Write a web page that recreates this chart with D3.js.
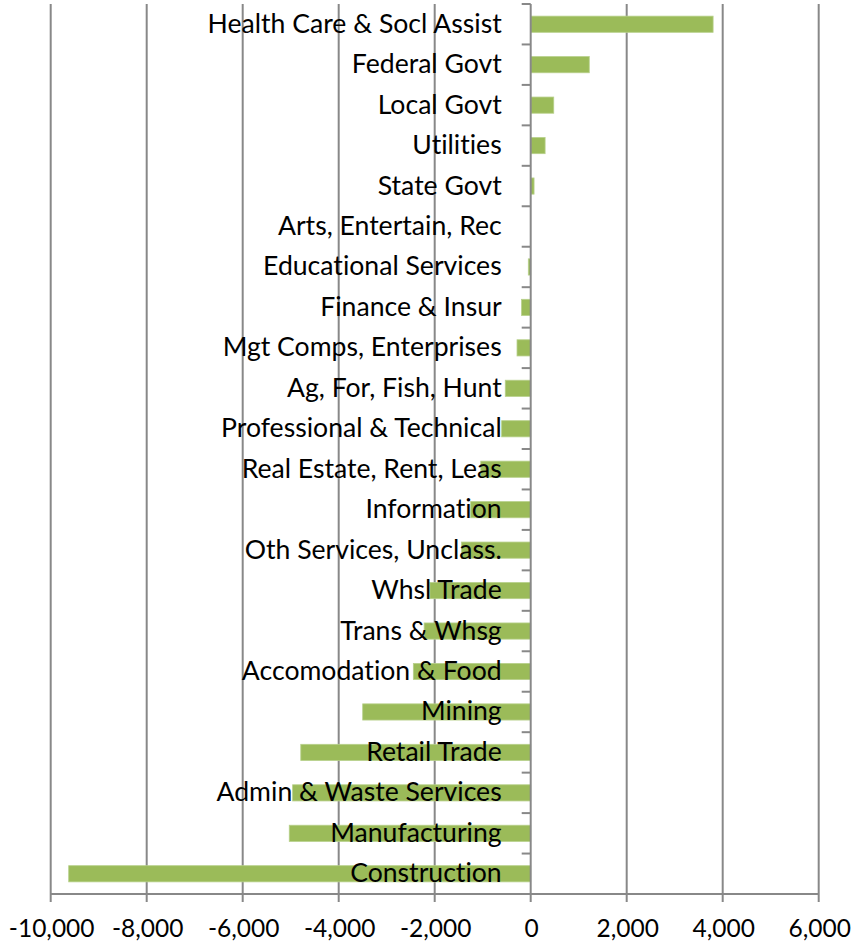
<!DOCTYPE html>
<html>
<head>
<meta charset="utf-8">
<script src="https://cdn.jsdelivr.net/npm/d3@7"></script>
<style>
  body { margin: 0; background: #fff; }
  .grid-line, .axis-line, .tick-mark { stroke: #888; stroke-width: 2; }
  text { font-variant-ligatures: none; font-feature-settings: "liga" 0, "clig" 0; }
  .cat-label { font-family: Lato, "Noto Sans", sans-serif; font-size: 26.6px; fill: #000; }
  .num-label { font-family: Lato, "Noto Sans", sans-serif; font-size: 24.5px; fill: #000; }
</style>
</head>
<body>
<div class="app"></div>
<script>
'use strict'

// categories, top to bottom
var categories = [
  "Health Care & Socl Assist",
  "Federal Govt",
  "Local Govt",
  "Utilities",
  "State Govt",
  "Arts, Entertain, Rec",
  "Educational Services",
  "Finance & Insur",
  "Mgt Comps, Enterprises",
  "Ag, For, Fish, Hunt",
  "Professional & Technical",
  "Real Estate, Rent, Leas",
  "Information",
  "Oth Services, Unclass.",
  "Whsl Trade",
  "Trans & Whsg",
  "Accomodation & Food",
  "Mining",
  "Retail Trade",
  "Admin & Waste Services",
  "Manufacturing",
  "Construction"
];

// change in jobs
var values = [
  3800, 1220, 480, 300, 70, 0, -50, -190, -285, -530, -605,
  -1040, -1250, -1440, -2100, -2220, -2445, -3500, -4790, -4960,
  -5030, -9625
];

var xTicks = [-10000, -8000, -6000, -4000, -2000, 0, 2000, 4000, 6000];

var data = categories.map(function(c, i) {
  return {name: c, value: values[i]};
});

var W = 852, H = 944;
var plotLeft = 50.7, plotRight = 818.7, plotTop = 4, plotBottom = 894;

// scales
var x = d3.scaleLinear().domain([-10000, 6000]).range([plotLeft, plotRight]);
var y = d3.scaleBand().domain(categories).range([plotTop, plotBottom])
          .paddingInner(0.6).paddingOuter(0.3);
var step = y.step();

// plain hyphen for negatives, like the original
var fmt = d3.formatLocale({decimal: ".", thousands: ",", grouping: [3], currency: ["", ""], minus: "-"}).format(",");

var svg = d3.select(".app").append("svg")
            .attr("width", W)
            .attr("height", H);

// vertical grid lines
svg.append("g").selectAll("line")
   .data(xTicks.filter(function(t) { return t !== 0; }))
   .enter().append("line")
   .attr("class", "grid-line")
   .attr("x1", function(d) { return x(d); })
   .attr("x2", function(d) { return x(d); })
   .attr("y1", plotTop)
   .attr("y2", plotBottom + 8);

// bottom axis line
svg.append("line")
   .attr("class", "axis-line")
   .attr("x1", plotLeft).attr("x2", plotRight)
   .attr("y1", plotBottom).attr("y2", plotBottom);

// bars
svg.append("g").selectAll("rect")
   .data(data)
   .enter().append("rect")
   .attr("x", function(d) { return x(Math.min(0, d.value)); })
   .attr("y", function(d) { return y(d.name); })
   .attr("width", function(d) { return Math.abs(x(d.value) - x(0)); })
   .attr("height", y.bandwidth())
   .attr("fill", "#9BBB59")
   .attr("stroke", "#B7D08A")
   .attr("stroke-width", 0.8);

// zero axis with category ticks
svg.append("line")
   .attr("class", "axis-line")
   .attr("x1", x(0)).attr("x2", x(0))
   .attr("y1", plotTop).attr("y2", plotBottom + 8);

var bounds = d3.range(categories.length + 1).map(function(i) { return plotTop + i * step; });
svg.append("g").selectAll("line")
   .data(bounds)
   .enter().append("line")
   .attr("class", "tick-mark")
   .attr("x1", x(0) - 9).attr("x2", x(0))
   .attr("y1", function(d) { return d; })
   .attr("y2", function(d) { return d; });

// category labels, drawn next to the zero axis
svg.append("g").selectAll("text")
   .data(categories)
   .enter().append("text")
   .attr("class", "cat-label")
   .attr("text-anchor", "end")
   .attr("x", x(0) - 29)
   .attr("y", function(d) { return y(d) + y.bandwidth() / 2 + 8.5; })
   .text(function(d) { return d; });

// x tick labels
svg.append("g").selectAll("text")
   .data(xTicks)
   .enter().append("text")
   .attr("class", "num-label")
   .attr("text-anchor", "middle")
   .attr("x", function(d) { return x(d) + 1; })
   .attr("y", 937)
   .text(function(d) { return fmt(d); });
</script>
</body>
</html>
